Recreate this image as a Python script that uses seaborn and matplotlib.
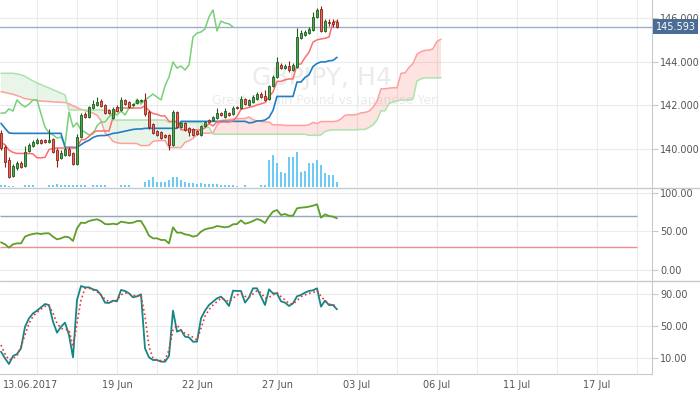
import numpy as np
import pandas as pd
import matplotlib
matplotlib.use("Agg")
import matplotlib.pyplot as plt
import matplotlib.transforms as mtransforms
from matplotlib.lines import Line2D
import seaborn as sns

# --- GBPJPY H4 candles ---
opens = [140.74, 140.10, 139.50, 138.77, 139.14, 139.37, 139.23, 139.91, 140.14, 140.28,
         140.42, 140.42, 140.33, 140.46, 139.96, 139.60, 139.73, 140.00, 139.82, 139.32,
         140.55, 141.61, 141.47, 141.88, 142.02, 142.20, 142.02, 141.79, 141.42, 141.93,
         141.79, 142.25, 142.16, 142.02, 142.11, 142.20, 142.25, 141.70, 141.15, 140.83,
         140.78, 140.65, 140.65, 140.19, 141.70, 141.01, 141.20, 140.97, 140.92, 140.83,
         140.65, 141.06, 141.33, 141.33, 141.42, 141.65, 141.47, 141.65, 141.61, 141.93,
         141.88, 142.29, 142.02, 142.16, 142.29, 142.52, 142.43, 142.29, 142.89, 143.30,
         143.85, 143.71, 143.80, 143.62, 143.76, 145.08, 145.22, 145.31, 145.45, 146.05,
         146.41, 145.41, 145.82, 145.82, 145.82]
highs = [140.87, 140.19, 139.64, 139.32, 139.46, 139.46, 140.14, 140.28, 140.42, 140.51,
         140.46, 140.46, 140.92, 140.51, 140.05, 139.96, 140.10, 140.10, 139.87, 140.69,
         141.65, 141.70, 141.97, 142.25, 142.38, 142.29, 142.06, 141.84, 141.93, 142.02,
         142.38, 142.29, 142.20, 142.11, 142.29, 142.29, 142.57, 141.79, 141.20, 140.87,
         140.83, 140.69, 140.69, 141.79, 141.74, 141.24, 141.24, 141.01, 140.97, 140.87,
         141.10, 141.29, 141.38, 141.52, 141.88, 141.70, 141.88, 141.70, 141.97, 141.97,
         142.43, 142.34, 142.29, 142.48, 142.61, 142.61, 142.70, 142.93, 143.39, 144.22,
         143.94, 143.90, 144.03, 143.94, 145.54, 145.45, 145.45, 145.59, 146.27, 146.46,
         146.55, 145.95, 145.95, 145.95, 145.95]
lows = [139.96, 139.18, 138.68, 138.73, 139.04, 139.14, 139.18, 139.87, 140.10, 140.23,
        140.23, 140.28, 140.28, 139.82, 139.18, 139.55, 139.69, 139.69, 139.27, 139.27,
        140.51, 141.42, 141.42, 141.84, 141.97, 141.93, 141.61, 141.61, 141.38, 141.70,
        141.74, 142.02, 141.88, 141.97, 142.06, 142.16, 141.52, 140.92, 140.69, 140.60,
        140.46, 140.51, 139.96, 140.14, 140.97, 140.97, 140.83, 140.60, 140.60, 140.65,
        140.60, 141.01, 141.20, 141.29, 141.38, 141.52, 141.42, 141.52, 141.56, 141.84,
        141.84, 142.02, 141.97, 142.11, 142.25, 142.34, 142.20, 142.25, 142.84, 143.26,
        143.67, 143.67, 143.53, 143.58, 143.71, 145.04, 145.17, 145.26, 145.41, 146.00,
        145.36, 145.36, 145.63, 145.59, 145.54]
closes = [140.05, 139.41, 138.73, 139.23, 139.37, 139.18, 139.87, 140.19, 140.33, 140.42,
          140.28, 140.33, 140.42, 139.87, 139.50, 139.82, 140.00, 139.73, 139.32, 140.55,
          141.56, 141.47, 141.93, 142.06, 142.16, 141.97, 141.65, 141.65, 141.84, 141.74,
          142.25, 142.06, 141.93, 142.06, 142.25, 142.25, 141.61, 141.01, 140.74, 140.65,
          140.51, 140.55, 140.19, 141.70, 141.01, 141.20, 140.87, 140.78, 140.65, 140.69,
          141.06, 141.24, 141.24, 141.47, 141.65, 141.56, 141.74, 141.56, 141.88, 141.88,
          142.29, 142.06, 142.25, 142.38, 142.52, 142.38, 142.25, 142.89, 143.30, 143.99,
          143.71, 143.80, 143.62, 143.85, 145.13, 145.31, 145.36, 145.50, 146.05, 146.37,
          145.41, 145.86, 145.77, 145.73, 145.59]
volumes = [2, 2, 1, 1, 0.5, 0.5, 2, 2, 2, 0.5, 0.5, 0.5, 2, 2, 3, 2, 2, 2, 2, 2,
           2, 2, 0.5, 2, 2, 2, 2, 0.5, 0.5, 0.5, 2, 2, 2, 0.5, 0.5, 0.5, 5, 7, 10, 5,
           5, 5, 7, 10, 10, 7, 5, 4, 4, 3, 4, 3, 3, 3, 3, 2, 2, 2, 2, 1,
           0.5, 2, 0.5, 0.5, 0.5, 2, 2, 27, 32, 24, 15, 14, 30, 30, 35, 15, 16, 24, 24, 27,
           22, 14, 12, 12, 5]

# --- Ichimoku lines ---
tenkan = ([140.30, 140.20, 139.95, 139.85] + [139.80] * 4 + [139.78, 139.60, 139.60, 139.62, 139.98, 140.03]
          + [140.05] * 6 + [140.42, 140.44, 140.58, 140.76] + [140.83] * 4 + [141.45] + [141.88] * 7
          + [141.98, 141.75, 141.63, 141.59, 141.52, 141.52] + [141.27] * 3 + [140.88] * 6
          + [140.97, 141.17, 141.06] + [141.24] * 4
          + [141.29, 141.49, 141.82, 141.86, 141.91, 141.95, 142.02, 142.07, 142.13, 142.39, 142.62,
             143.10, 143.10, 143.17, 143.21, 143.21, 143.87, 143.90, 144.19, 144.43, 144.90, 145.00,
             145.04, 145.07, 145.13, 145.80, 145.86])
kijun = ([141.18, 140.95, 140.74] + [140.72] * 13 + [140.08] * 4
         + [140.20, 140.32, 140.40, 140.53, 140.60, 140.62, 140.62, 140.66, 140.72, 140.74, 140.78,
            140.82, 140.86, 140.90, 140.92, 140.92]
         + [140.95] * 9 + [141.27] * 17 + [141.20, 141.22, 141.29, 141.29, 141.33, 141.45, 141.77]
         + [142.41] * 5 + [143.07] * 2 + [143.28, 143.40, 143.78, 143.92, 143.99, 143.99, 144.04, 144.06, 144.20])
senkou_a = [142.63, 142.59, 142.55, 142.51, 142.45, 142.38, 142.31, 142.28, 142.25, 142.22,
            142.20, 142.19, 142.18, 142.16, 142.15, 142.14, 142.13, 142.08, 141.98, 141.90,
            141.82, 141.76, 141.70, 141.65, 141.55, 141.30,
            140.74, 140.58, 140.35, 140.29, 140.26, 140.26, 140.26, 140.26, 140.25, 140.16,
            140.16, 140.17, 140.35, 140.38, 140.39, 140.39, 140.07, 140.07, 140.07, 140.07,
            140.31, 140.38, 140.49, 140.65, 140.72, 140.73, 140.73, 140.75, 141.09, 141.31,
            141.33, 141.35, 141.37, 141.39, 141.40, 141.40, 141.47, 141.35, 141.29, 141.27,
            141.24, 141.24, 141.11, 141.11, 141.11, 141.08, 141.08, 141.08, 141.08, 141.08,
            141.08, 141.12, 141.22, 141.17, 141.26, 141.26, 141.26, 141.26, 141.28, 141.38,
            141.55, 141.57, 141.56, 141.59, 141.66, 141.68, 141.73, 141.92, 142.20, 142.76,
            142.76, 142.79, 142.81, 142.81, 143.47, 143.49, 143.74, 143.92, 144.34, 144.46,
            144.52, 144.53, 144.59, 144.93, 145.03]
senkou_b = ([143.47, 143.47, 143.47, 143.47, 143.44, 143.40, 143.33, 143.22, 143.12, 143.03,
             142.95, 142.87, 142.80, 142.72, 142.64, 142.56, 142.48]
            + [141.79] * 11 + [141.33] * 14 + [141.22] * 9 + [141.00] * 2 + [140.68] * 24
            + [140.63, 140.63, 140.63, 140.65, 140.81, 140.86, 140.88] + [140.88] * 6 + [140.90] * 2
            + [140.99, 141.10, 141.33, 141.75, 141.75, 142.09, 142.15, 142.20, 142.25, 142.25, 142.25,
               142.30, 143.12, 143.21, 143.26, 143.26, 143.26, 143.26, 143.26])
last_price = 145.593

# --- oscillators ---
rsi = [36, 33.4, 29, 33.4, 34.6, 34.6, 43.3, 45.5, 46.8, 47.6,
       46.8, 47.6, 47.6, 43.3, 39.8, 41.1, 43.3, 42.4, 37.7, 54.1,
       61.5, 61, 63.6, 64.9, 65.8, 63.6, 59.7, 59.3, 60.1, 59.3,
       62.8, 61.9, 61, 61.5, 63.6, 63.6, 55, 44.6, 41.1, 41.1,
       39, 39, 34.6, 55.4, 48.5, 48.5, 46.3, 45.5, 43.3, 44.6,
       49.8, 52.8, 54.1, 55, 57.1, 56.3, 55.4, 56.3, 59.3, 59.7,
       64.5, 60.1, 61.5, 63.6, 66.2, 64.5, 61, 69.3, 75.8, 77.9,
       71.4, 72.7, 70.5, 70.5, 80.1, 81, 81.4, 82.3, 83.5, 85.3,
       67.9, 72.3, 70.1, 69.3, 67.1]
stoch_k = [17.9, 9.6, 2.5, 12.5, 15, 22, 49, 59.6, 65.8, 69.2,
           73.3, 77.5, 76.2, 55.4, 41.7, 49, 54.2, 38.7, 10.8, 82.5,
           100, 98.3, 98.3, 95.8, 94.6, 88.8, 79.2, 78.8, 81.7, 80.8,
           95, 93.8, 90.8, 85.8, 87.1, 89.6, 22, 10.8, 7.5, 7.5,
           5.4, 5.4, 12.5, 69.2, 42.9, 45, 36.7, 35.8, 30.4, 30.4,
           59.6, 69.2, 76.2, 80.4, 84.6, 86.7, 81.7, 75, 94.2, 93.8,
           93.8, 79.2, 85.8, 97.1, 97.1, 86.7, 76.2, 95.8, 90.8, 90.8,
           80.8, 79.2, 75, 78.3, 87.1, 88.8, 91.7, 93.8, 94.6, 97.1,
           74.2, 81.7, 76.2, 76.2, 70.8]
stoch_d = [26.2, 15, 7.5, 9.6, 12.5, 24.2, 38.7, 53.3, 62.1, 67.1,
           71.2, 74.6, 75.4, 66.2, 53.3, 47.1, 45.8, 45, 24.2, 53.3,
           82.5, 97.1, 97.1, 95, 92.9, 88.8, 83.3, 80.4, 80.4, 82.5,
           88.8, 91.7, 90, 88.8, 87.1, 88.8, 62.1, 24.2, 9.6, 7.5,
           6.7, 7.5, 20, 45, 51.2, 45, 40.8, 38.7, 35.8, 32.5,
           47.1, 62.1, 70.4, 76.2, 80.4, 84.6, 83.3, 80.4, 84.6, 88.8,
           90.8, 87.1, 85.8, 90, 94.2, 91.7, 84.6, 85.8, 88.8, 91.7,
           86.7, 82.5, 78.3, 77.5, 81.7, 86.7, 88.8, 90.8, 91.7, 94.2,
           87.1, 81.7, 77.5, 76.2, 75]

tick_bars = [7.4, 29, 49, 69, 89, 109, 129, 149]
tick_labels = ["13.06.2017", "19 Jun", "22 Jun", "27 Jun", "03 Jul", "06 Jul", "11 Jul", "17 Jul"]

df = pd.DataFrame({"bar": np.arange(len(closes)), "open": opens, "high": highs,
                   "low": lows, "close": closes, "vol": volumes, "tenkan": tenkan,
                   "kijun": kijun, "rsi": rsi, "k": stoch_k, "d": stoch_d})
df["chikou"] = df["close"].shift(-26)
cloud = pd.DataFrame({"bar": np.arange(len(senkou_a)), "a": senkou_a, "b": senkou_b})

sns.set_style("white")
plt.rcParams["font.family"] = ["DejaVu Sans"]

W, H = 700, 394
fig = plt.figure(figsize=(7, 3.94), dpi=100)
axw = 652 / W
ax1 = fig.add_axes([0, (H - 187) / H, axw, 187 / H])
ax2 = fig.add_axes([0, (H - 280) / H, axw, 92 / H])
ax3 = fig.add_axes([0, (H - 374) / H, axw, 93 / H])

# volume sits on a hidden twin of the price axis (made first, so price ticks stay on the right)
axv = ax1.twinx()
axv.set_ylim(0, 187)
axv.axis("off")

grid_c = "#ececec"
axis_c = "#c5cad0"
text_c = "#555555"
xmin, xmax = -0.25, 162.75

for ax in (ax1, ax2, ax3):
    ax.set_xlim(xmin, xmax)
    for s in ("top", "left", "bottom"):
        ax.spines[s].set_visible(False)
    ax.spines["right"].set_visible(True)
    ax.spines["right"].set_color(axis_c)
    ax.yaxis.tick_right()
    ax.yaxis.set_label_position("right")
    ax.tick_params(axis="y", length=4, color=axis_c, labelsize=7, labelcolor=text_c, pad=2,
                   left=False, labelleft=False, right=True, labelright=True)
    ax.tick_params(axis="x", length=0, labelbottom=False)
    for gx in range(9, 163, 10):
        ax.axvline(gx, color=grid_c, lw=0.8, zorder=0)
axv.set_xlim(xmin, xmax)

# --- main panel ---
ax1.set_ylim(138.265, 146.824)
ax1.set_yticks([140, 142, 144, 146])
ax1.set_yticklabels(["140.000", "142.000", "144.000", "146.000"])
for gy in [140, 142, 144, 146]:
    ax1.axhline(gy, color=grid_c, lw=0.8, zorder=0)

ax1.text(0.494, 0.583, "GBPJPY, H4", transform=ax1.transAxes, ha="center", va="center",
         fontsize=18, color="#ebebeb", zorder=0.5)
ax1.text(0.5, 0.465, "Great Britain Pound vs Japanese Yen", transform=ax1.transAxes,
         ha="center", va="center", fontsize=9, color="#ebebeb", zorder=0.5)

axv.bar(df["bar"], df["vol"], width=0.3, color="#6fcbf3", lw=0, zorder=1)

a = cloud["a"].to_numpy()
b = cloud["b"].to_numpy()
ax1.fill_between(cloud["bar"], a, b, where=b >= a, interpolate=True, color="#4caf50", alpha=0.12, lw=0, zorder=1)
ax1.fill_between(cloud["bar"], a, b, where=a > b, interpolate=True, color="#f44336", alpha=0.15, lw=0, zorder=1)
sns.lineplot(data=cloud, x="bar", y="a", ax=ax1, color="#ffa0a0", lw=1.1, zorder=2)
sns.lineplot(data=cloud, x="bar", y="b", ax=ax1, color="#ace3ac", lw=1.1, zorder=2)
sns.lineplot(data=df.dropna(), x="bar", y="chikou", ax=ax1, color="#78d078", lw=1.1, zorder=3)
sns.lineplot(data=df, x="bar", y="kijun", ax=ax1, color="#1f7fc6", lw=1.2, zorder=3)
sns.lineplot(data=df, x="bar", y="tenkan", ax=ax1, color="#ff6e6e", lw=1.1, zorder=3)

up = df["close"] >= df["open"]
face = np.where(up, "#4fa84f", "#e8685a")
edge = np.where(up, "#1d5c1d", "#8c2219")
ax1.vlines(df["bar"], df["low"], df["high"], colors=edge, lw=0.8, zorder=4)
body_lo = np.minimum(df["open"], df["close"])
body_h = np.maximum((df["close"] - df["open"]).abs(), 0.025)
ax1.bar(df["bar"], body_h, bottom=body_lo, width=0.72, color=face, edgecolor=edge, lw=0.6, zorder=5)

ax1.axhline(last_price, color="#9bb0c8", lw=1, zorder=2)
ax1.text(1.006, last_price, f"{last_price:.3f}",
         transform=mtransforms.blended_transform_factory(ax1.transAxes, ax1.transData),
         ha="left", va="center", fontsize=7, color="white", clip_on=False, zorder=10,
         bbox=dict(boxstyle="square,pad=0.25", fc="#4b6d95", ec="none"))
ax1.set_xlabel("")
ax1.set_ylabel("")

# --- RSI panel ---
ax2.set_ylim(-12.99, 106.49)
ax2.set_yticks([0, 50, 100])
ax2.set_yticklabels(["0.00", "50.00", "100.00"])
for gy in [0, 50, 100]:
    ax2.axhline(gy, color=grid_c, lw=0.8, zorder=0)
ax2.hlines(70, xmin, 159, color="#93a7bf", lw=1, zorder=1)
ax2.hlines(30, xmin, 159, color="#f08e8e", lw=1, zorder=1)
sns.lineplot(data=df, x="bar", y="rsi", ax=ax2, color="#5f9e28", lw=1.3, zorder=3)
ax2.set_xlabel("")
ax2.set_ylabel("")

# --- Stochastic panel ---
ax3.set_ylim(-10, 106.25)
ax3.set_yticks([10, 50, 90])
ax3.set_yticklabels(["10.00", "50.00", "90.00"])
for gy in [10, 50, 90]:
    ax3.axhline(gy, color=grid_c, lw=0.8, zorder=0)
sns.lineplot(data=df, x="bar", y="k", ax=ax3, color="#148686", lw=1.3, zorder=3)
sns.lineplot(data=df, x="bar", y="d", ax=ax3, color="#e53935", lw=1.2, linestyle=":", zorder=4)
ax3.spines["bottom"].set_visible(True)
ax3.spines["bottom"].set_color(axis_c)
ax3.set_xticks(tick_bars)
ax3.set_xticklabels(tick_labels)
ax3.tick_params(axis="x", length=0, labelbottom=True, labelsize=7, labelcolor=text_c, pad=4)
ax3.set_xlabel("")
ax3.set_ylabel("")

for yp in (187.5, 280.5):
    fig.add_artist(Line2D([0, 1], [1 - yp / H] * 2, transform=fig.transFigure, color=axis_c, lw=1))

fig.savefig("out.png", dpi=100, facecolor="white")
